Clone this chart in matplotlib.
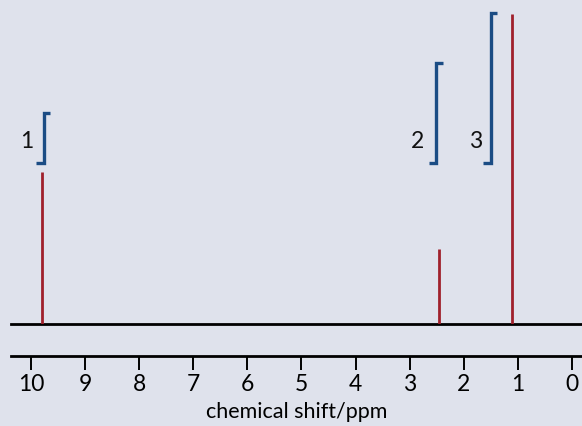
import matplotlib
matplotlib.use("Agg")
import matplotlib.pyplot as plt

# Data
peak_shifts = [9.8, 2.45, 1.1]          # ppm
peak_heights = [152, 75, 310]           # arbitrary intensity
integ_labels = ["1", "2", "3"]
integ_values = [1, 2, 3]
integ_x = [9.76, 2.51, 1.50]            # bracket positions (ppm)
label_x = [10.07, 2.85, 1.79]
tick_vals = list(range(10, -1, -1))
tick_labels = [str(v) for v in tick_vals]
xlabel = "chemical shift/ppm"

W, H = 582, 426
bg = "#dfe2ec"
red = "#a0202c"
blue = "#1b4c84"
font = "Lato"
fs = 16.5

fig = plt.figure(figsize=(W / 100, H / 100), dpi=100, facecolor=bg)

left = 11 / W
xl = (10 + (31 - 11) / 54.1, -10 / 54.1)

# Spectrum axes (bottom spine = baseline)
base_px = 324
ax = fig.add_axes([left, (H - base_px) / H, 1 - left, base_px / H])
ax.set_facecolor("none")
ax.set_xlim(*xl)
ax.set_ylim(0, base_px)
for s in ["top", "right", "left"]:
    ax.spines[s].set_visible(False)
ax.spines["bottom"].set_linewidth(2.0)
ax.spines["bottom"].set_color("black")
ax.set_xticks([])
ax.set_yticks([])

ax.vlines(peak_shifts, 0, peak_heights, color=red, linewidth=2.0, zorder=3)

# Integration brackets (x axis is reversed: +ppm is to the left)
scale = 50
base_y = 161
for xv, val, lab, lx in zip(integ_x, integ_values, integ_labels, label_x):
    top = base_y + val * scale
    ax.plot([xv + 0.14, xv, xv, xv - 0.12], [base_y, base_y, top, top],
            color=blue, linewidth=2.4, solid_joinstyle="miter",
            solid_capstyle="butt", zorder=4)
    ax.text(lx, base_y + 22, lab, ha="center", va="center",
            fontsize=fs, family=font, color="#111111")

# Scale axes
axis_px = 356
ax2 = fig.add_axes([left, (H - axis_px) / H, 1 - left, 0.001])
ax2.set_facecolor("none")
ax2.set_xlim(*xl)
for s in ["top", "right", "left"]:
    ax2.spines[s].set_visible(False)
ax2.spines["bottom"].set_linewidth(2.0)
ax2.set_yticks([])
ax2.set_xticks(tick_vals)
ax2.set_xticklabels(tick_labels, family=font, fontsize=fs)
ax2.tick_params(axis="x", direction="out", length=10, width=1.4, pad=3, colors="black")
ax2.set_xlabel(xlabel, family=font, fontsize=15.5, labelpad=5)

fig.savefig("out.png", dpi=100, facecolor=bg)
